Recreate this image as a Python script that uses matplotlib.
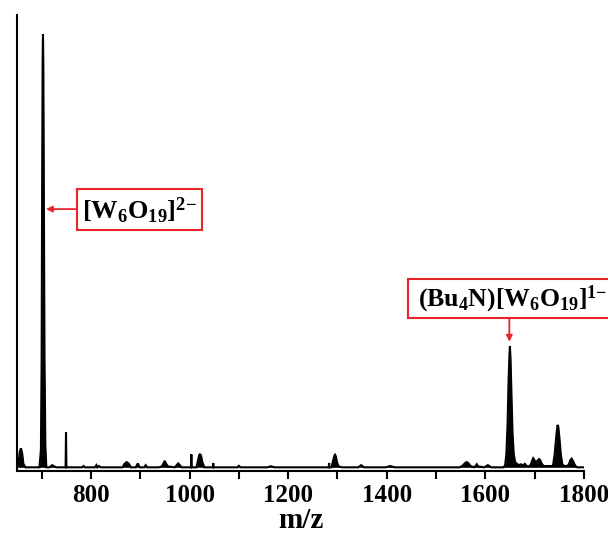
import matplotlib
matplotlib.use("Agg")
import matplotlib.pyplot as plt
from matplotlib.patches import Rectangle
from matplotlib.ticker import MultipleLocator, FuncFormatter

plt.rcParams['font.family'] = ['Liberation Serif', 'DejaVu Serif']
plt.rcParams['font.weight'] = 'bold'
plt.rcParams['mathtext.fontset'] = 'custom'
plt.rcParams['mathtext.rm'] = 'Liberation Serif:bold'
plt.rcParams['mathtext.it'] = 'Liberation Serif:bold'
plt.rcParams['mathtext.bf'] = 'Liberation Serif:bold'

# Spectrum (m/z, relative intensity %)
mz = [650, 653, 655.5, 658, 660.5, 663, 667,
      690, 695.5, 698.5, 700, 701, 702, 702.7, 703.5, 704.5, 705.8, 707.5, 709.5,
      716, 719, 721.5, 724, 730,
      748.6, 749.4, 750.2, 760,
      782, 785, 788, 808, 811, 813, 816, 820, 835,
      864, 868, 872.5, 877, 881, 891, 895, 899, 908, 911, 914, 938,
      944, 947, 949.6, 952, 956, 970, 974, 977, 980, 984, 995,
      1002.8, 1003.6, 1004.4, 1014, 1017, 1019.5, 1021, 1023, 1026, 1030,
      1047.2, 1048, 1048.8, 1097, 1100, 1103, 1158, 1165, 1172,
      1275, 1282.3, 1283, 1283.7, 1288, 1291, 1293.5, 1295, 1296.5, 1299, 1302, 1310,
      1342, 1348, 1354, 1398, 1407, 1416,
      1548, 1554, 1559, 1562, 1565, 1570, 1577, 1580, 1582.5, 1585, 1598, 1605, 1612,
      1637, 1640, 1642.5, 1645, 1647, 1648.8, 1649.7, 1651, 1653, 1655, 1657.5, 1660.5,
      1664, 1668, 1672, 1676, 1680, 1684, 1688,
      1692, 1695, 1697, 1699, 1702, 1706, 1709, 1711, 1714, 1718,
      1723, 1737, 1740.5, 1744, 1746.5, 1748, 1750, 1753, 1756, 1760, 1765,
      1769, 1772, 1775, 1778, 1782, 1786, 1800]
intensity = [0, 0.8, 3.5, 4.4, 3.2, 0.8, 0,
             0, 0, 4, 25, 66, 94, 100, 92, 62, 25, 5, 0,
             0, 0.3, 0.5, 0.3, 0,
             0, 8.1, 0, 0,
             0, 0.3, 0, 0, 0.5, 0, 0.3, 0, 0,
             0, 0.8, 1.2, 0.8, 0, 0, 0.9, 0, 0, 0.5, 0, 0,
             0.2, 0.9, 1.5, 0.9, 0.2, 0, 0.5, 0.9, 0.5, 0, 0,
             0, 3.0, 0, 0, 1.5, 2.8, 3.0, 2.8, 1.2, 0,
             0, 1.0, 0, 0, 0.35, 0, 0, 0.25, 0,
             0, 0, 1.0, 0, 0, 1.5, 2.6, 2.9, 2.6, 1.2, 0.2, 0,
             0, 0.5, 0, 0, 0.3, 0,
             0, 0.4, 1.0, 1.2, 1.0, 0.3, 0, 0.3, 0.7, 0.2, 0, 0.5, 0,
             0, 0.5, 3, 10, 20, 26, 27.9, 25, 16, 8, 3, 1.2,
             0.8, 0.5, 0.7, 0.4, 0.8, 0.3, 0.2,
             0.6, 1.6, 2.1, 1.8, 1.0, 1.6, 1.9, 1.7, 0.9, 0.3,
             0.3, 0.3, 3, 7.5, 9.8, 9.3, 7, 3, 0.7, 0.3, 0.3,
             0.6, 1.6, 2.0, 1.4, 0.4, 0, 0]

xmin, xmax = 650, 1800
ymin, ymax = -0.85, 104.4

fig = plt.figure(figsize=(6.08, 5.41), dpi=100)
ax = fig.add_axes([17/608, 1 - 471/541, (584 - 17)/608, (471 - 15)/541])

ax.plot(mz, intensity, color='black', lw=1.5, solid_joinstyle='miter')
ax.fill_between(mz, 0, intensity, color='black', lw=0)

ax.set_xlim(xmin, xmax)
ax.set_ylim(ymin, ymax)

for s in ['top', 'right']:
    ax.spines[s].set_visible(False)
ax.spines['left'].set_linewidth(1.5)
ax.spines['bottom'].set_linewidth(1.5)

ax.xaxis.set_major_locator(MultipleLocator(100))
ax.xaxis.set_major_formatter(FuncFormatter(lambda v, p: f"{int(v)}" if int(round(v)) % 200 == 0 else ""))
ax.tick_params(axis='x', direction='out', length=6, width=1.5, labelsize=18, pad=3)
ax.set_yticks([])
for lab in ax.get_xticklabels():
    lab.set_fontweight('bold')
ax.set_xlabel('m/z', fontsize=21, fontweight='bold', labelpad=0)

# annotation boxes (figure pixel coords)
def fbox(x0, y0, x1, y1):
    r = Rectangle((x0/608, 1 - y1/541), (x1 - x0)/608, (y1 - y0)/541,
                  transform=fig.transFigure, fill=True, facecolor='white',
                  edgecolor='#e8252a', lw=1.5, clip_on=False)
    fig.add_artist(r)

red = '#e8252a'
fbox(77, 189, 202, 230)
fig.text(139.5/608, 1 - 211/541, r'$[\mathrm{W}_6\mathrm{O}_{19}]^{2{-}}$',
         ha='center', va='center', fontsize=19)
ax.annotate('', xy=(708.8, 59.6), xytext=(771.5, 59.6),
            arrowprops=dict(arrowstyle='-|>', color=red, lw=1.3,
                            mutation_scale=9, shrinkA=0, shrinkB=0))

fbox(408, 279, 640, 318)
fig.text(418/608, 1 - 299/541, r'$(\mathrm{Bu}_4\mathrm{N})[\mathrm{W}_6\mathrm{O}_{19}]^{1{-}}$',
         ha='left', va='center', fontsize=18.5)
ax.annotate('', xy=(1648.6, 29.0), xytext=(1648.6, 34.5),
            arrowprops=dict(arrowstyle='-|>', color=red, lw=1.3,
                            mutation_scale=9, shrinkA=0, shrinkB=0))

fig.savefig('out.png', dpi=100)
